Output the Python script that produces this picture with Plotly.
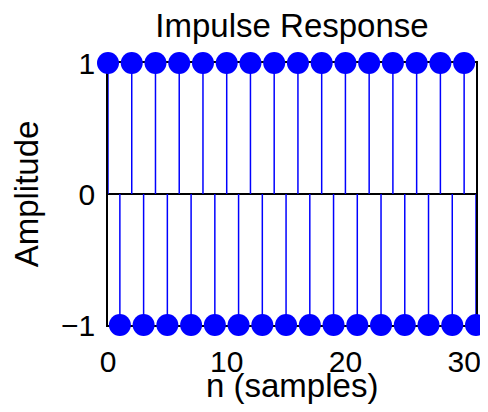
import plotly.graph_objects as go

# impulse response samples
n = list(range(32))
amplitude = [1, -1, 1, -1, 1, -1, 1, -1, 1, -1, 1, -1, 1, -1, 1, -1,
             1, -1, 1, -1, 1, -1, 1, -1, 1, -1, 1, -1, 1, -1, 1, -1]

x_ticks = [0, 10, 20, 30]
y_ticks = [-1, 0, 1]
y_labels = ["\u22121", "0", "1"]

# stems: baseline to value, separated by None
stem_x, stem_y = [], []
for xi, yi in zip(n, amplitude):
    stem_x += [xi, xi, None]
    stem_y += [0, yi, None]

fig = go.Figure()
fig.add_trace(go.Scatter(x=stem_x, y=stem_y, mode="lines",
                         line=dict(color="#0000ff", width=1.5),
                         hoverinfo="skip", cliponaxis=False))
fig.add_trace(go.Scatter(x=n, y=amplitude, mode="markers",
                         marker=dict(color="#0000ff", size=22),
                         cliponaxis=False))

# the page body has an 8px margin: only a 472x396 area is visible at (8, 8)
font = "Liberation Sans, Arial, sans-serif"
fig.update_layout(
    width=472, height=396,
    margin=dict(l=100, r=4, t=55, b=79),
    paper_bgcolor="white", plot_bgcolor="white",
    showlegend=False,
    font=dict(family=font, size=30, color="black"),
    title=dict(text="Impulse Response", x=0.5, xref="paper", xanchor="center",
               y=1 - 17 / 396, yanchor="middle", font=dict(size=33)),
)
fig.update_xaxes(range=[0, 31], tickvals=x_ticks, showgrid=False,
                 showline=True, linecolor="black", linewidth=1.5, mirror=True,
                 zeroline=False, ticks="", layer="below traces",
                 automargin=False, ticklabelstandoff=9,
                 ticklabeloverflow="allow", tickfont=dict(size=30))
fig.update_yaxes(range=[-1, 1], tickvals=y_ticks, ticktext=y_labels,
                 showgrid=False, showline=True, linecolor="black",
                 linewidth=1.5, mirror=True, zeroline=True,
                 zerolinecolor="black", zerolinewidth=1.5, ticks="",
                 layer="below traces", automargin=False, ticklabelstandoff=5,
                 tickfont=dict(size=30),
                 title=dict(text="Amplitude", standoff=14, font=dict(size=33)))

# x-axis title as an annotation so it is not squeezed into the margin
fig.add_annotation(text="n (samples)", xref="paper", yref="paper",
                   x=0.5, y=0, xanchor="center", yanchor="middle",
                   yshift=-60, showarrow=False, font=dict(size=33))

fig.write_html("out.html")
